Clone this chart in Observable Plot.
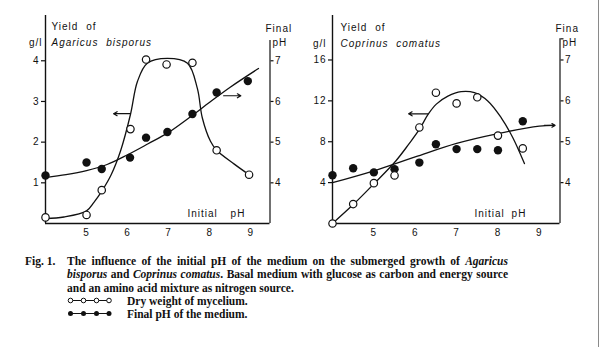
<!DOCTYPE html>
<html>
<head>
<meta charset="utf-8">
<script src="https://cdn.jsdelivr.net/npm/d3@7"></script>
<script src="https://cdn.jsdelivr.net/npm/@observablehq/plot@0.6"></script>
<style>
  body { margin: 0; background: #fff; }
  #page { position: relative; width: 600px; height: 353px; overflow: hidden; background: #fff; }
  #left, #right { position: absolute; top: 0; }
  #left { left: 0; }
  #right { left: 300px; }
  #left svg text, #right svg text { letter-spacing: 1px; word-spacing: 4px; }
  .cap { position: absolute; font-family: "Liberation Serif", "Times New Roman", serif; font-weight: bold;
         font-size: 11.5px; line-height: 13.3px; color: #111; white-space: nowrap; }
  .j { text-align: justify; text-align-last: justify; white-space: normal; }
  .edge { position: absolute; left: 598px; top: 0; width: 1px; height: 347px; background: #8a8a8a; }
  .leg { display: inline-block; width: 60px; }
</style>
</head>
<body>
<div id="page">
  <div id="left"></div>
  <div id="right"></div>
  <div class="cap" style="left:25px; top:255px;">Fig. 1.</div>
  <div class="cap" style="left:67px; top:255px; width:441px;">
    <div class="j">The influence of the initial pH of the medium on the submerged growth of <i>Agaricus</i></div>
    <div class="j"><i>bisporus</i> and <i>Coprinus comatus</i>. Basal medium with glucose as carbon and energy source</div>
    <div>and an amino acid mixture as nitrogen source.</div>
    <div><span class="leg"><svg width="46" height="9" style="vertical-align:0px"><line x1="3" y1="4.5" x2="42" y2="4.5" stroke="#111" stroke-width="1"/><circle cx="3.5" cy="4.5" r="2.3" fill="#fff" stroke="#111" stroke-width="1"/><circle cx="16.5" cy="4.5" r="2.3" fill="#fff" stroke="#111" stroke-width="1"/><circle cx="29.5" cy="4.5" r="2.3" fill="#fff" stroke="#111" stroke-width="1"/><circle cx="42" cy="4.5" r="2.3" fill="#fff" stroke="#111" stroke-width="1"/></svg></span>Dry weight of mycelium.</div>
    <div><span class="leg"><svg width="46" height="9" style="vertical-align:0px"><line x1="3" y1="4.5" x2="42" y2="4.5" stroke="#111" stroke-width="1"/><circle cx="3.5" cy="4.5" r="2.5" fill="#111"/><circle cx="16.5" cy="4.5" r="2.5" fill="#111"/><circle cx="29.5" cy="4.5" r="2.5" fill="#111"/><circle cx="42" cy="4.5" r="2.5" fill="#111"/></svg></span>Final pH of the medium.</div>
  </div>
  <div class="edge"></div>
</div>
<script>
// ---------- shared ----------
const xTickValues = [5, 6, 7, 8, 9];
const pHTicks = [4, 5, 6, 7];

// ---------- Agaricus bisporus (left panel) ----------
const agYieldTicks = [1, 2, 3, 4];
const agYieldX = [4.0, 5.0, 5.37, 6.07, 6.45, 6.95, 7.58, 8.17, 8.96];
const agYield = [0.15, 0.21, 0.82, 2.32, 4.03, 3.91, 3.95, 1.8, 1.2];
const agFinalX = [4.0, 5.0, 5.37, 6.06, 6.45, 6.97, 7.58, 8.17, 8.93];
const agFinalPH = [4.18, 4.5, 4.34, 4.62, 5.11, 5.25, 5.69, 6.22, 6.5];
const agYieldCurveX = [4.0, 4.45, 5.0, 5.18, 5.38, 5.6, 5.83, 6.07, 6.24, 6.48, 6.97, 7.46, 7.7, 7.82, 8.02, 8.17, 8.6, 8.96];
const agYieldCurveY = [0.12, 0.16, 0.31, 0.52, 0.81, 1.2, 1.79, 2.68, 3.49, 3.94, 4.06, 3.94, 3.32, 2.6, 2.02, 1.8, 1.46, 1.2];
const agPHCurveX = [4.0, 4.5, 5.0, 5.5, 6.0, 6.5, 7.0, 7.5, 8.0, 8.5, 9.19];
const agPHCurve = [4.13, 4.2, 4.3, 4.45, 4.69, 4.96, 5.24, 5.6, 5.98, 6.35, 6.81];
const agArrowYield = [{x1: 6.07, x2: 5.66, v: 2.7}];
const agArrowPH = [{x1: 8.34, x2: 8.76, v: 6.14}];

// ---------- Coprinus comatus (right panel) ----------
const coYieldTicks = [4, 8, 12, 16];
const coX = [4.0, 4.5, 5.0, 5.5, 6.1, 6.5, 7.0, 7.5, 8.0, 8.6];
const coYield = [0.0, 1.9, 3.95, 4.7, 9.4, 12.8, 11.75, 12.35, 8.6, 7.35];
const coFinalPH = [4.18, 4.35, 4.25, 4.33, 4.49, 4.94, 4.82, 4.82, 4.79, 5.5];
const coYieldCurveX = [4.0, 4.5, 5.02, 5.53, 5.84, 6.1, 6.31, 6.51, 6.79, 7.11, 7.43, 7.76, 8.08, 8.36, 8.64];
const coYieldCurveY = [0.0, 1.85, 3.96, 6.12, 7.74, 9.2, 10.67, 11.68, 12.46, 12.9, 12.8, 11.97, 10.34, 8.39, 5.86];
const coPHCurveX = [4.0, 5.0, 6.0, 7.0, 8.0, 9.0, 9.36];
const coPHCurve = [4.0, 4.29, 4.63, 4.96, 5.2, 5.38, 5.4];
const coArrowYield = [{x1: 6.31, x2: 5.84, v: 10.73}];
const coArrowPH = [{x1: 9.12, x2: 9.38, v: 5.4}];

const zip = (xs, ys) => xs.map((x, i) => ({x, y: ys[i]}));
const style = {background: "white", fontFamily: "'Liberation Sans', Arial, sans-serif", fontSize: "10px", color: "#111", overflow: "visible"};
const ink = "#111";

function label(text, dx, dy, opts = {}) {
  return Plot.text([text], {frameAnchor: "top-left", textAnchor: "start", lineAnchor: "bottom", dx, dy, fill: ink, fontSize: 10, ...opts});
}

// ---------- left plot ----------
const agYTop = 208 / 40.68;
const agToY = p => p - 3;            // final pH -> yield-axis units
const L = Plot.plot({
  width: 300, height: 245,
  marginLeft: 45, marginRight: 30.5, marginTop: 15, marginBottom: 22,
  x: {domain: [4, 9.47]},
  y: {domain: [0, agYTop]},
  style,
  marks: [
    Plot.ruleX([4], {y1: 0, y2: agYTop, stroke: ink, strokeWidth: 1.4}),
    Plot.ruleY([0], {stroke: ink, strokeWidth: 1.4}),
    Plot.ruleX([9.47], {y1: 0, y2: 4.5, stroke: ink, strokeWidth: 1.2}),
    Plot.axisY(agYieldTicks, {anchor: "left", tickSize: 4, tickPadding: 2, strokeWidth: 1.2, label: null}),
    Plot.axisY(pHTicks.map(agToY), {anchor: "right", tickSize: 3, tickPadding: 2, strokeWidth: 1.2, tickFormat: d => d + 3, label: null}),
    Plot.axisX(xTickValues, {anchor: "bottom", tickSize: 0, tickPadding: 5, label: null}),
    Plot.line(zip(agYieldCurveX, agYieldCurveY), {x: "x", y: "y", curve: "catmull-rom", stroke: ink, strokeWidth: 1.3}),
    Plot.line(zip(agPHCurveX, agPHCurve), {x: "x", y: d => agToY(d.y), curve: "catmull-rom", stroke: ink, strokeWidth: 1.3}),
    Plot.arrow(agArrowYield, {x1: "x1", x2: "x2", y1: "v", y2: "v", stroke: ink, strokeWidth: 1.2, headLength: 5, bend: 0}),
    Plot.arrow(agArrowPH, {x1: "x1", x2: "x2", y1: d => agToY(d.v), y2: d => agToY(d.v), stroke: ink, strokeWidth: 1.2, headLength: 5, bend: 0}),
    Plot.dot(zip(agFinalX, agFinalPH), {x: "x", y: d => agToY(d.y), r: 4.2, fill: ink, stroke: "none"}),
    Plot.dot(zip(agYieldX, agYield), {x: "x", y: "y", r: 3.7, fill: "white", stroke: ink, strokeWidth: 1.2}),
    label("Yield of", 6, 14),
    label("Agaricus bisporus", 6, 30, {fontStyle: "italic"}),
    label("g/l", -3, 30, {textAnchor: "end"}),
    label("Final", 220, 16),
    label("pH", 227, 30),
    label("Initial pH", 142, 201)
  ]
});
d3.select(L).selectAll("text").filter(function () { return this.textContent === "Initial pH"; }).style("word-spacing", "9px");
document.getElementById("left").append(L);

// ---------- right plot ----------
const coYTop = 208 / 10.22;
const coToY = p => (p - 3) * 4;      // final pH -> yield-axis units
const R = Plot.plot({
  width: 300, height: 245,
  marginLeft: 32, marginRight: 40.5, marginTop: 15, marginBottom: 22,
  x: {domain: [4, 9.5]},
  y: {domain: [0, coYTop]},
  style,
  marks: [
    Plot.ruleX([4], {y1: 0, y2: coYTop, stroke: ink, strokeWidth: 1.4}),
    Plot.ruleY([0], {stroke: ink, strokeWidth: 1.4}),
    Plot.ruleX([9.5], {y1: 0, y2: 18.07, stroke: ink, strokeWidth: 1.2}),
    Plot.axisY([18.07], {anchor: "right", tickSize: 3, strokeWidth: 1.2, tickFormat: () => "", label: null}),
    Plot.axisY(coYieldTicks, {anchor: "left", tickSize: 4, tickPadding: 2, strokeWidth: 1.2, label: null}),
    Plot.axisY(pHTicks.map(coToY), {anchor: "right", tickSize: 3, tickPadding: 2, strokeWidth: 1.2, tickFormat: d => d / 4 + 3, label: null}),
    Plot.axisX(xTickValues, {anchor: "bottom", tickSize: 0, tickPadding: 5, label: null}),
    Plot.line(zip(coYieldCurveX, coYieldCurveY), {x: "x", y: "y", curve: "catmull-rom", stroke: ink, strokeWidth: 1.3}),
    Plot.line(zip(coPHCurveX, coPHCurve), {x: "x", y: d => coToY(d.y), curve: "catmull-rom", stroke: ink, strokeWidth: 1.3}),
    Plot.arrow(coArrowYield, {x1: "x1", x2: "x2", y1: "v", y2: "v", stroke: ink, strokeWidth: 1.2, headLength: 5, bend: 0}),
    Plot.arrow(coArrowPH, {x1: "x1", x2: "x2", y1: d => coToY(d.v), y2: d => coToY(d.v), stroke: ink, strokeWidth: 1.2, headLength: 5, bend: 0}),
    Plot.dot(zip(coX, coFinalPH), {x: "x", y: d => coToY(d.y), r: 4.2, fill: ink, stroke: "none"}),
    Plot.dot(zip(coX, coYield), {x: "x", y: "y", r: 3.7, fill: "white", stroke: ink, strokeWidth: 1.2}),
    label("Yield of", 8, 15),
    label("Coprinus comatus", 8, 31, {fontStyle: "italic"}),
    label("g/l", -6, 31, {textAnchor: "end"}),
    label("Fina", 223, 16),
    label("pH", 230, 30),
    label("Initial pH", 142, 201)
  ]
});
d3.select(R).selectAll("text").filter(function () { return this.textContent === "Initial pH"; }).style("word-spacing", "3px");
document.getElementById("right").append(R);
</script>
</body>
</html>
